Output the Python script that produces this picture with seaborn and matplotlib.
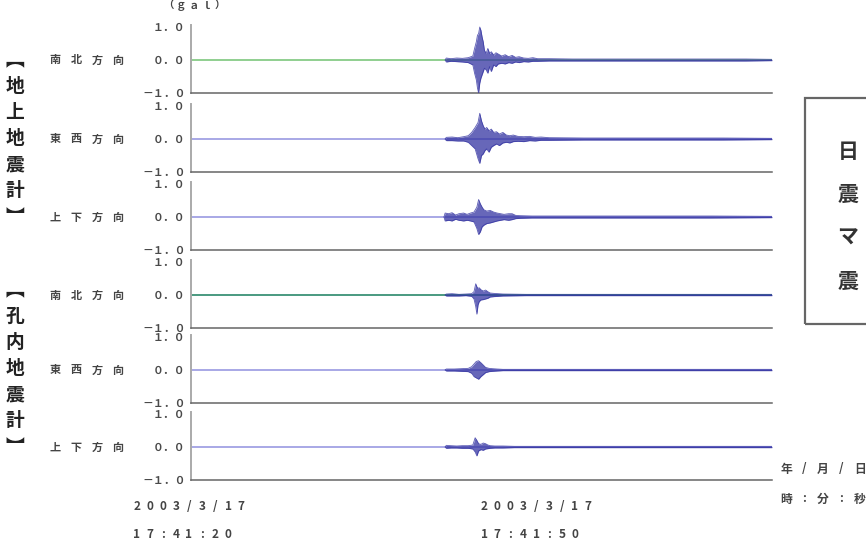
import matplotlib
matplotlib.use("Agg")
import matplotlib.pyplot as plt
import seaborn as sns
import pandas as pd
from matplotlib.patches import Rectangle
from matplotlib.ticker import MultipleLocator

sns.set_style("white")
plt.rcParams['font.family'] = ['Noto Sans CJK JP', 'DejaVu Sans']

# ---------------- data (seconds after 2003/3/17 17:41:20, amplitude in gal) ----
row_labels = ["南北方向", "東西方向", "上下方向", "南北方向", "東西方向", "上下方向"]
group_labels = ["︻地上地震計︼", "︻孔内地震計︼"]
box_label = "日震マ震"
ytick_values = [-1.0, 0.0, 1.0]
ytick_labels = ["－１．０", "０．０", "１．０"]
unit_label = "（ｇａｌ）"
time_labels = [("2003/3/17", "17:41:20"), ("2003/3/17", "17:41:50")]
right_labels = ["年/月/日", "時:分:秒"]

t1 = [22.0, 22.1, 22.5, 23.0, 23.5, 24.0, 24.4, 24.55, 24.7, 24.8, 24.9, 25.0, 25.1, 25.2, 25.3, 25.4, 25.55, 25.7, 25.85, 26.0, 26.2, 26.4, 26.6, 26.9, 27.2, 27.5, 27.8, 28.1, 28.4, 28.8, 29.2, 29.6, 30.0, 31.0, 33.0, 36.0, 40.0, 44.0, 48.0, 50.3]
u1 = [0, 0.06, 0.04, 0.06, 0.05, 0.07, 0.12, 0.35, 0.55, 0.75, 0.8, 1.0, 0.9, 0.7, 0.55, 0.3, 0.2, 0.35, 0.2, 0.25, 0.15, 0.22, 0.18, 0.12, 0.16, 0.1, 0.14, 0.08, 0.1, 0.06, 0.05, 0.07, 0.04, 0.04, 0.03, 0.03, 0.03, 0.03, 0.03, 0.02]
l1 = [0, -0.06, -0.04, -0.05, -0.06, -0.08, -0.15, -0.4, -0.6, -0.85, -1.0, -0.7, -0.55, -0.45, -0.35, -0.25, -0.3, -0.4, -0.2, -0.35, -0.15, -0.2, -0.12, -0.1, -0.12, -0.08, -0.1, -0.06, -0.08, -0.05, -0.06, -0.04, -0.04, -0.03, -0.03, -0.03, -0.03, -0.03, -0.03, -0.02]

t2 = [22.0, 22.1, 22.6, 23.1, 23.6, 24.0, 24.3, 24.6, 24.85, 25.0, 25.15, 25.3, 25.45, 25.6, 25.8, 26.0, 26.2, 26.45, 26.7, 27.0, 27.3, 27.6, 27.9, 28.3, 28.8, 29.3, 29.8, 30.3, 31.0, 34.0, 38.0, 42.0, 46.0, 50.3]
u2 = [0, 0.05, 0.06, 0.04, 0.07, 0.1, 0.2, 0.35, 0.5, 0.78, 0.55, 0.4, 0.3, 0.35, 0.25, 0.3, 0.2, 0.22, 0.15, 0.2, 0.12, 0.1, 0.12, 0.08, 0.07, 0.08, 0.05, 0.06, 0.04, 0.03, 0.03, 0.03, 0.03, 0.02]
l2 = [0, -0.05, -0.05, -0.06, -0.06, -0.1, -0.2, -0.3, -0.6, -0.74, -0.5, -0.45, -0.35, -0.3, -0.4, -0.25, -0.2, -0.15, -0.2, -0.12, -0.1, -0.12, -0.08, -0.07, -0.08, -0.05, -0.06, -0.04, -0.04, -0.03, -0.03, -0.03, -0.03, -0.02]

t3 = [21.9, 22.0, 22.3, 22.6, 22.9, 23.2, 23.6, 23.9, 24.2, 24.5, 24.75, 24.9, 25.05, 25.2, 25.35, 25.6, 25.9, 26.2, 26.5, 26.8, 27.1, 27.5, 27.8, 28.1, 28.5, 29.5, 31.0, 35.0, 40.0, 45.0, 50.3]
u3 = [0, 0.12, 0.1, 0.13, 0.06, 0.1, 0.12, 0.08, 0.12, 0.15, 0.3, 0.53, 0.4, 0.3, 0.22, 0.18, 0.2, 0.15, 0.12, 0.1, 0.08, 0.1, 0.1, 0.05, 0.04, 0.03, 0.03, 0.03, 0.03, 0.03, 0.02]
l3 = [0, -0.12, -0.1, -0.12, -0.07, -0.1, -0.12, -0.1, -0.12, -0.15, -0.35, -0.53, -0.45, -0.3, -0.25, -0.2, -0.18, -0.15, -0.12, -0.1, -0.08, -0.1, -0.08, -0.05, -0.04, -0.03, -0.03, -0.03, -0.03, -0.03, -0.02]

t4 = [22.0, 22.1, 22.6, 23.2, 23.8, 24.3, 24.5, 24.65, 24.75, 24.85, 24.95, 25.1, 25.3, 25.5, 25.7, 25.9, 26.2, 26.6, 27.0, 29.0, 33.0, 38.0, 43.0, 50.3]
u4 = [0, 0.03, 0.04, 0.02, 0.03, 0.04, 0.1, 0.34, 0.25, 0.2, 0.22, 0.16, 0.12, 0.15, 0.1, 0.06, 0.05, 0.04, 0.03, 0.02, 0.02, 0.02, 0.02, 0.02]
l4 = [0, -0.03, -0.03, -0.03, -0.02, -0.04, -0.12, -0.35, -0.58, -0.3, -0.2, -0.15, -0.14, -0.12, -0.1, -0.06, -0.05, -0.04, -0.03, -0.02, -0.02, -0.02, -0.02, -0.02]

t5 = [22.0, 22.1, 22.8, 23.4, 24.0, 24.3, 24.5, 24.7, 24.9, 25.1, 25.3, 25.5, 25.8, 26.1, 26.5, 27.0, 30.0, 35.0, 40.0, 45.0, 50.3]
u5 = [0, 0.03, 0.03, 0.04, 0.05, 0.1, 0.18, 0.26, 0.28, 0.22, 0.15, 0.08, 0.05, 0.04, 0.03, 0.02, 0.02, 0.02, 0.02, 0.02, 0.02]
l5 = [0, -0.03, -0.03, -0.04, -0.05, -0.1, -0.2, -0.24, -0.28, -0.2, -0.14, -0.08, -0.05, -0.04, -0.03, -0.02, -0.02, -0.02, -0.02, -0.02, -0.02]

t6 = [22.0, 22.1, 22.5, 23.0, 23.5, 24.0, 24.4, 24.6, 24.75, 24.9, 25.1, 25.3, 25.5, 25.7, 25.9, 26.3, 27.0, 28.0, 32.0, 38.0, 44.0, 50.3]
u6 = [0, 0.05, 0.04, 0.03, 0.04, 0.04, 0.06, 0.28, 0.2, 0.1, 0.08, 0.12, 0.1, 0.06, 0.04, 0.03, 0.03, 0.02, 0.02, 0.02, 0.02, 0.02]
l6 = [0, -0.04, -0.03, -0.03, -0.04, -0.04, -0.06, -0.15, -0.27, -0.12, -0.08, -0.1, -0.06, -0.05, -0.04, -0.03, -0.03, -0.02, -0.02, -0.02, -0.02, -0.02]

traces = [(t1, u1, l1), (t2, u2, l2), (t3, u3, l3), (t4, u4, l4), (t5, u5, l5), (t6, u6, l6)]

# ---------------- layout / style ----------------
W, H = 866, 541
fig = plt.figure(figsize=(W / 100, H / 100), dpi=100)
zero_y = [60, 139, 217, 295, 370, 447]      # pixel rows of the zero lines
ppu = 33.0                                  # pixels per 1 gal
ax_left, ax_right = 191, 772
xmax = 50.3
trace_color = "#3434a2"
base_colors = ["#8fcf8f", "#a8a8e6", "#a8a8e6", "#4a9a80", "#a8a8e6", "#a8a8e6"]
text_color = "#444444"


def fx(x):
    return x / W


def fy(y):
    return 1 - y / H


def spaced(x, y, s, pitch, **kw):
    for i, ch in enumerate(s):
        fig.text(fx(x + i * pitch), fy(y), ch, ha="center", va="center", **kw)


for i, (t, up, lo) in enumerate(traces):
    y0 = zero_y[i]
    top = y0 - 1.06 * ppu
    bottom = y0 + 1.0 * ppu
    ax = fig.add_axes([fx(ax_left), fy(bottom), (ax_right - ax_left) / W, (bottom - top) / H])
    ax.axhline(0, color=base_colors[i], lw=1.4, zorder=1)
    df = pd.DataFrame({"t": t, "up": up, "lo": lo})
    ax.fill_between(df["t"], df["lo"], df["up"], color=trace_color, lw=0, alpha=0.75, zorder=2)
    sns.lineplot(data=df, x="t", y="up", ax=ax, color=trace_color, lw=0.6, alpha=0.8, zorder=3)
    sns.lineplot(data=df, x="t", y="lo", ax=ax, color=trace_color, lw=0.6, alpha=0.8, zorder=3)
    ax.set_xlim(0, xmax)
    ax.set_ylim(-1.0, 1.06)
    ax.set_xlabel("")
    ax.set_ylabel("")
    for s in ["top", "right"]:
        ax.spines[s].set_visible(False)
    ax.spines["left"].set_color("#aaaaaa")
    ax.spines["left"].set_linewidth(1.4)
    ax.spines["bottom"].set_color("#666666")
    ax.spines["bottom"].set_linewidth(1.1)
    ax.set_yticks(ytick_values)
    ax.set_yticklabels(ytick_labels, fontsize=7.8, color="#4a4a4a", fontweight="bold")
    ax.yaxis.set_minor_locator(MultipleLocator(0.5))
    ax.xaxis.set_major_locator(MultipleLocator(10))
    ax.xaxis.set_minor_locator(MultipleLocator(1))
    ax.set_xticklabels([])
    ax.tick_params(axis="y", which="major", direction="in", length=3, color="#999999", pad=4)
    ax.tick_params(axis="y", which="minor", direction="in", length=3, color="#999999")
    ax.tick_params(axis="x", which="major", direction="in", length=5, color="#555555", width=1.0)
    ax.tick_params(axis="x", which="minor", direction="in", length=3, color="#555555", width=0.8)
    ax.patch.set_alpha(0)

    # row label (direction)
    spaced(55, y0, row_labels[i], 21, fontsize=8, color=text_color, fontweight="bold")

# group labels on the far left
for g, y_start in zip(group_labels, [60, 290]):
    for k, ch in enumerate(g):
        fig.text(fx(15), fy(y_start + k * 26.2), ch, ha="center", va="center",
                 fontsize=13.5, fontweight="bold", color="#222222")

# unit label on top
spaced(168, 6, unit_label, 13, fontsize=7.5, color=text_color, fontweight="bold")

# time labels at the bottom
for (d, tm), x in zip(time_labels, [137, 484]):
    spaced(x, 507, d, 13, fontsize=8.5, color=text_color, fontweight="bold")
    spaced(x, 534, tm, 13, fontsize=8.5, color=text_color, fontweight="bold")

# date / time legend on the right
spaced(786, 469, right_labels[0], 18.5, fontsize=8.5, color=text_color, fontweight="bold")
spaced(786, 499, right_labels[1], 18.5, fontsize=8.5, color=text_color, fontweight="bold")

# right side box
fig.add_artist(Rectangle((fx(805), fy(324)), (880 - 805) / W, (324 - 98) / H,
                         transform=fig.transFigure, fill=False, ec="#666666", lw=1.6,
                         clip_on=False))
for k, ch in enumerate(box_label):
    fig.text(fx(848), fy(151 + k * 43.3), ch, ha="center", va="center",
             fontsize=15, fontweight="bold", color="#333333")

fig.savefig("out.png", dpi=100)
